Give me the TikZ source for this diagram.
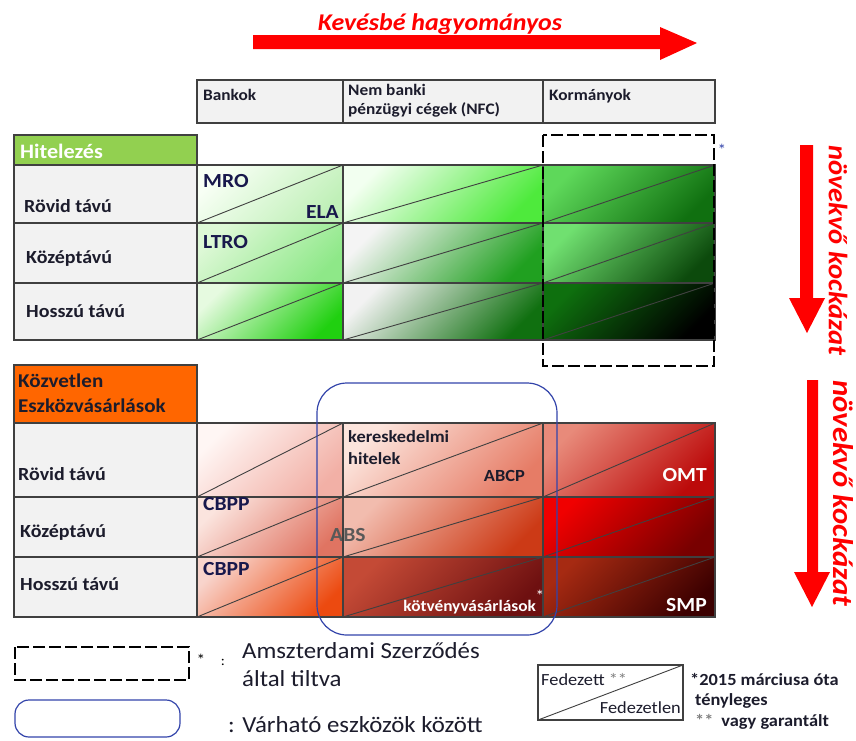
\documentclass[tikz,border=0pt]{standalone}
\usepackage{fontspec}
\setmainfont{Carlito}[FakeStretch=1.08]
\usepackage{xcolor}
\usepackage{tikz}
\usetikzlibrary{positioning, calc}
\definecolor{gridgray}{HTML}{404040}
\definecolor{cellgray}{HTML}{F2F2F2}
\definecolor{hitgreen}{HTML}{92D050}
\definecolor{kozorange}{HTML}{FF6600}
\definecolor{riskred}{HTML}{FF0000}
\definecolor{txtdark}{HTML}{1C1C2C}
\definecolor{ovalblue}{HTML}{3344AA}
% green cells: light (top left) / dark (bottom right)
\definecolor{gl11}{HTML}{F8FFF5}\definecolor{gd11}{HTML}{C0F0B8}
\definecolor{gl12}{HTML}{F2FFF0}\definecolor{gd12}{HTML}{4EEA3C}
\definecolor{gl13}{HTML}{5ED85A}\definecolor{gd13}{HTML}{107010}
\definecolor{gl21}{HTML}{DDF8D6}\definecolor{gd21}{HTML}{8EE888}
\definecolor{gl22}{HTML}{F4F4F4}\definecolor{gd22}{HTML}{20A020}
\definecolor{gl23}{HTML}{70E070}\definecolor{gd23}{HTML}{0C4A0C}
\definecolor{gl31}{HTML}{E6FAE0}\definecolor{gd31}{HTML}{20D010}
\definecolor{gl32}{HTML}{F2F2F2}\definecolor{gd32}{HTML}{107010}
\definecolor{gl33}{HTML}{0E700E}\definecolor{gd33}{HTML}{000000}
% red cells
\definecolor{rl11}{HTML}{FFF6F4}\definecolor{rd11}{HTML}{F2B0A6}
\definecolor{rl12}{HTML}{FCE4DC}\definecolor{rd12}{HTML}{E67C66}
\definecolor{rl13}{HTML}{E88A7A}\definecolor{rd13}{HTML}{BC0A0A}
\definecolor{rl21}{HTML}{FBE4DE}\definecolor{rd21}{HTML}{E07462}
\definecolor{rl22}{HTML}{F2BCAE}\definecolor{rd22}{HTML}{CC3A16}
\definecolor{rl23}{HTML}{F00000}\definecolor{rd23}{HTML}{780000}
\definecolor{rl31}{HTML}{F8D4CC}\definecolor{rd31}{HTML}{EC4A10}
\definecolor{rl32}{HTML}{C44A36}\definecolor{rd32}{HTML}{6E1010}
\definecolor{rl33}{HTML}{A62A12}\definecolor{rd33}{HTML}{3C0000}

\begin{document}
\begin{tikzpicture}[x=1pt, y=-1pt,
    gridline/.style={draw=gridgray, line width=2.8pt},
    diagline/.style={draw=gridgray, line width=0.9pt},
    hdr/.style={font=\bfseries\fontsize{16}{18}\selectfont, text=txtdark, inner sep=0pt, anchor=base west},
    rowlbl/.style={font=\bfseries\fontsize{18.5}{20}\selectfont, text=txtdark, inner sep=0pt, anchor=base west},
    tag/.style={font=\bfseries\fontsize{20}{22}\selectfont, text=txtdark!85!blue, inner sep=0pt, anchor=base west},
    cellsmall/.style={font=\bfseries\fontsize{17}{19}\selectfont, text=txtdark, inner sep=0pt, anchor=base west},
    starmark/.style={font=\fontsize{16}{16}\selectfont, inner sep=0pt},
    risktext/.style={font=\bfseries\itshape\fontsize{24}{26}\selectfont, text=riskred, inner sep=0pt},
    legtext/.style={font=\fontsize{23}{25}\selectfont, text=txtdark, inner sep=0pt, anchor=base west},
    note/.style={font=\bfseries\fontsize{17}{19}\selectfont, text=txtdark, inner sep=0pt, anchor=base west}]
\useasboundingbox (0,0) rectangle (856,740);

% arrows
\fill[riskred] (253,35) -- (660,35) -- (660,27) -- (697,43) -- (660,60) -- (660,49) -- (253,49) -- cycle;
\node[risktext] (title) at (440,24) {Kevésbé hagyományos};
\fill[riskred] (800,145) -- (813,145) -- (813,298) -- (825,298) -- (807,333) -- (789,298) -- (800,298) -- cycle;
\node[risktext, rotate=-90, anchor=west, font=\bfseries\itshape\fontsize{26.5}{28}\selectfont] (risk1) at (838,145) {növekvő kockázat};
\fill[riskred] (807,380) -- (818,380) -- (818,572) -- (830,572) -- (812,607) -- (794,572) -- (807,572) -- cycle;
\node[risktext, rotate=-90, anchor=west, font=\bfseries\itshape\fontsize{28.5}{30}\selectfont] (risk2) at (843,380) {növekvő kockázat};

% header
\draw[gridline, fill=cellgray] (197,80) rectangle (715,123);
\draw[gridline] (343,80) -- (343,123) (543,80) -- (543,123);
\node[hdr] (bankok) at (203,100) {Bankok};
\node[hdr] (nfc1) at (348,95) {Nem banki};
\node[hdr] (nfc2) at (348,114) {pénzügyi cégek (NFC)};
\node[hdr] (korm) at (549,100) {Kormányok};

% cells
\foreach \xa/\xb/\c in {197/343/1,343/543/2,543/715/3}{
  \foreach \ya/\yb/\r in {165/223/1,223/283/2,283/340/3}{
    \shade[top color=gl\r\c, bottom color=gd\r\c, shading angle=45] (\xa,\ya) rectangle (\xb,\yb);
    \draw[diagline] (\xa,\yb) -- (\xb,\ya);
  }
  \foreach \ya/\yb/\r in {423/497/1,497/557/2,557/617/3}{
    \shade[top color=rl\r\c, bottom color=rd\r\c, shading angle=45] (\xa,\ya) rectangle (\xb,\yb);
    \draw[diagline] (\xa,\yb) -- (\xb,\ya);
  }
}
\node[tag, text=gray!70!black] (abs) at (330,541) {ABS};

% lending table
\draw[gridline, fill=hitgreen] (14,135) rectangle (197,165);
\fill[cellgray] (14,165) rectangle (197,340);
\draw[gridline] (14,165) rectangle (715,340);
\draw[gridline] (14,223) -- (715,223) (14,283) -- (715,283);
\draw[gridline] (197,165) -- (197,340) (343,165) -- (343,340) (543,165) -- (543,340);

% purchases table
\draw[gridline, fill=kozorange] (14,365) rectangle (197,423);
\fill[cellgray] (14,423) rectangle (197,617);
\draw[gridline] (14,423) rectangle (715,617);
\draw[gridline] (14,497) -- (715,497) (14,557) -- (715,557);
\draw[gridline] (197,423) -- (197,617) (343,423) -- (343,617) (543,423) -- (543,617);

% frames
\draw[black, line width=2.8pt, dash pattern=on 12pt off 4pt] (543,135) rectangle (714,366);
\node[starmark, text=ovalblue] (star1) at (722,150) {*};
\draw[ovalblue, line width=1.2pt, rounded corners=30pt] (317,383) rectangle (557,635);

% labels
\node[rowlbl, text=white, font=\bfseries\fontsize{20.5}{22}\selectfont] (hitel) at (20,158) {Hitelezés};
\node[rowlbl] (rov1) at (24,212) {Rövid távú};
\node[rowlbl] (koz1) at (26,263) {Középtávú};
\node[rowlbl] (hos1) at (26,317) {Hosszú távú};
\node[tag] (mro) at (203,187) {MRO};
\node[tag, anchor=base east] (ela) at (339,218) {ELA};
\node[tag] (ltro) at (203,248) {LTRO};

\node[rowlbl, font=\bfseries\fontsize{19.5}{21}\selectfont] (kozv1) at (18,387) {Közvetlen};
\node[rowlbl, font=\bfseries\fontsize{19.5}{21}\selectfont] (kozv2) at (18,412) {Eszközvásárlások};
\node[rowlbl] (rov2) at (18,480) {Rövid távú};
\node[rowlbl] (koz2) at (20,537) {Középtávú};
\node[rowlbl] (hos2) at (20,590) {Hosszú távú};
\node[tag] (cbpp1) at (203,510) {CBPP};
\node[tag] (cbpp2) at (203,575) {CBPP};
\node[cellsmall] (ker1) at (348,442) {kereskedelmi};
\node[cellsmall] (ker2) at (348,464) {hitelek};
\node[cellsmall, anchor=base east] (abcp) at (525,481) {ABCP};
\node[tag, text=white, anchor=base east] (omt) at (707,481) {OMT};
\node[tag, text=white, anchor=base east] (smp) at (707,611) {SMP};
\node[cellsmall, text=white, font=\bfseries\fontsize{16}{18}\selectfont, anchor=base east] (kotv) at (536,611) {kötvényvásárlások};
\node[starmark, text=white] (star2) at (540,596) {*};

% legend
\draw[black, line width=2.8pt, dash pattern=on 12pt off 4pt] (15,647) rectangle (189,680);
\node[starmark] (star3) at (201,660) {*};
\node[font=\fontsize{14}{14}\selectfont, inner sep=0pt] (colon1) at (223,662) {:};
\node[legtext] (amsz1) at (242,658) {Amszterdami Szerződés};
\node[legtext] (amsz2) at (242,686) {által tiltva};
\draw[ovalblue, line width=1.2pt, rounded corners=14pt] (15,700) rectangle (180,737);
\node[legtext] (varh) at (228,732) {: Várható eszközök között};

\draw[gridline, line width=2pt, fill=white] (538,665) rectangle (683,720);
\draw[diagline] (538,720) -- (683,665);
\node[note, font=\fontsize{17}{19}\selectfont] (fed) at (541,685) {Fedezett \textcolor{gray}{**}};
\node[note, font=\fontsize{17}{19}\selectfont, anchor=base east] (fedl) at (681,713) {Fedezetlen};
\node[note] (n1) at (690,685) {*2015 márciusa óta};
\node[note] (n2) at (695,705) {tényleges};
\node[note] (n3) at (695,726) {\textcolor{gray}{**}\hspace{8pt}vagy garantált};
\end{tikzpicture}
\end{document}
